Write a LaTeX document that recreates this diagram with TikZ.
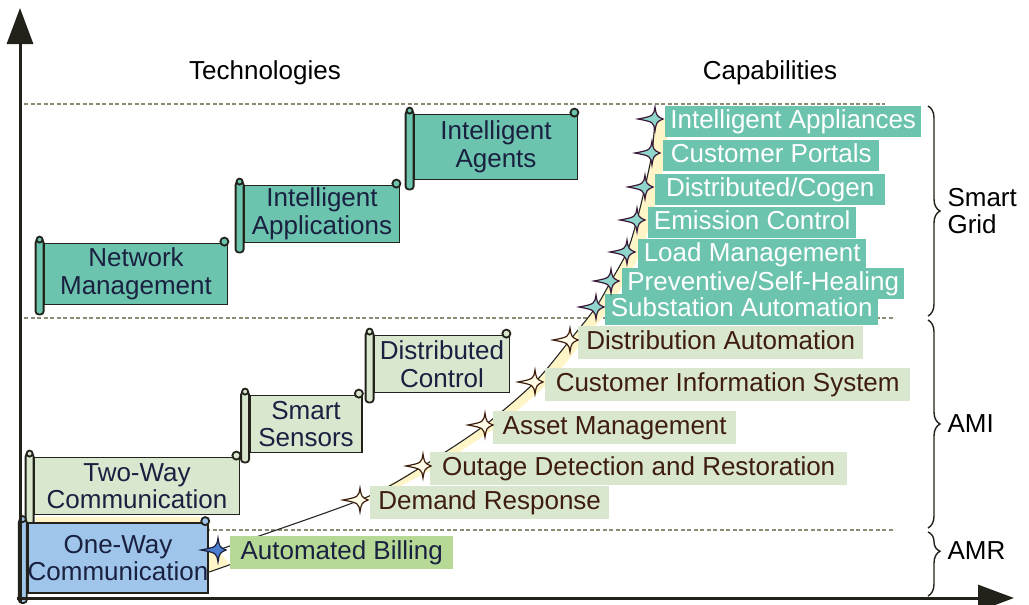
\documentclass[tikz,border=0pt]{standalone}
\usepackage{fontspec}
\setmainfont{Liberation Sans}
\usetikzlibrary{arrows.meta,positioning,decorations.pathreplacing}

\definecolor{gridteal}{HTML}{6CC4AE}
\definecolor{sage}{HTML}{D9E7CF}
\definecolor{billgreen}{HTML}{B6DA96}
\definecolor{skyblue}{HTML}{9FC6EA}
\definecolor{creamy}{HTML}{FFF5C6}
\definecolor{dashgray}{HTML}{8C8C72}
\definecolor{inkdark}{HTML}{22221A}
\definecolor{rusttext}{HTML}{3E1C0E}
\definecolor{navyink}{HTML}{1A2040}
\definecolor{startealf}{HTML}{8ED6CB}
\definecolor{starpurple}{HTML}{3A1838}
\definecolor{starblue}{HTML}{4C7ED0}
\definecolor{starcream}{HTML}{FFFCE8}

% rolled left edge and curl of a scroll
\newcommand{\scrollends}[2]{%
  \draw[scrolledge, fill=#2, rounded corners=3pt] ([shift={(-8,-3)}]#1.north west) rectangle ([shift={(0,9)}]#1.south west);
  \filldraw[scrolledge, fill=#2] ([shift={(-4,-3)}]#1.north west) circle (3);
  \filldraw[scrolledge, fill=#2] ([shift={(-4,-1)}]#1.north east) circle (4);
}

\begin{document}
\begin{tikzpicture}[x=1pt, y=-1pt,
  font=\fontsize{26}{27.5}\selectfont,
  scrollbox/.style={draw=inkdark, line width=1.8pt, align=center, inner sep=0pt, text=navyink},
  scrolledge/.style={draw=inkdark, line width=1.8pt},
  capteal/.style={fill=gridteal, text=white, inner xsep=3pt, inner ysep=0pt, text height=19pt, text depth=5pt, minimum height=31pt, yshift=-2pt},
  capsage/.style={fill=sage, text=rusttext, inner xsep=3pt, inner ysep=0pt, text height=19pt, text depth=5pt, minimum height=33pt, yshift=-2pt},
  levelline/.style={dashgray, line width=1.6pt, dash pattern=on 4pt off 2.5pt},
  ribbonline/.style={draw=black!85, line width=1.1pt},
  levelbrace/.style={decorate, decoration={brace, amplitude=12pt, #1}, line width=1.4pt, draw=inkdark},
  levelbrace/.default={aspect=0.5},
  axisline/.style={draw=inkdark, line width=3pt, -{Triangle[length=36pt, width=26pt]}},
  pics/capstar/.style 2 args={code={
    \filldraw[fill=#1, draw=#2, line width=1.2pt] (0,-12) .. controls (1.5,-3) .. (8,0) .. controls (1.5,3) .. (0,12)
      .. controls (-1.5,3) .. (-17,0) .. controls (-1.5,-3) .. (0,-12) -- cycle;
  }}
]
\useasboundingbox (0,0) rectangle (1029,605);

% level lines
\draw[levelline] (24,104) -- (885,104);
\draw[levelline] (24,318) -- (895,318);
\draw[levelline] (24,530) -- (895,530);

\node at (265,73) (techhead) {Technologies};
\node at (770,73) (caphead) {Capabilities};

% star points of the capability curve
\coordinate (sIA) at (655,119);
\coordinate (sCP) at (652,153);
\coordinate (sDC) at (645,187);
\coordinate (sEC) at (637,220);
\coordinate (sLM) at (627,252);
\coordinate (sPS) at (611,281);
\coordinate (sSA) at (596,307);
\coordinate (sDA) at (570,340);
\coordinate (sCI) at (535,382);
\coordinate (sAM) at (485,425);
\coordinate (sOD) at (423,466);
\coordinate (sDR) at (360,500);
\coordinate (sAB) at (218,550);

\fill[creamy] plot[smooth, tension=0.5] coordinates {(sDR) (sOD) (sAM) (sCI) (sDA) (sSA) (sPS) (sLM) (sEC) (sDC) (sCP) (sIA)}
  -- plot[smooth, tension=0.5] coordinates {([xshift=14pt]sIA) ([xshift=14pt]sCP) ([xshift=14pt]sDC) ([xshift=14pt]sEC)
     ([xshift=14pt]sLM) ([xshift=14pt]sPS) ([xshift=14pt]sSA) ([xshift=14pt]sDA) ([xshift=14pt]sCI) ([xshift=14pt]sAM)
     ([xshift=14pt]sOD) ([xshift=14pt]sDR)} -- cycle;
\draw[ribbonline] plot[smooth, tension=0.5] coordinates {(sAB) (sDR) (sOD) (sAM) (sCI) (sDA) (sSA) (sPS) (sLM) (sEC) (sDC) (sCP) (sIA)};

% capabilities
\node[capteal, minimum width=256pt, right=10pt of sIA] (ia) {Intelligent Appliances};
\node[capteal, minimum width=216pt, right=11pt of sCP] (cp) {Customer Portals};
\node[capteal, minimum width=230pt, right=10pt of sDC] (dc) {Distributed/Cogen};
\node[capteal, minimum width=208pt, right=11pt of sEC] (ec) {Emission Control};
\node[capteal, minimum width=228pt, right=11pt of sLM] (lm) {Load Management};
\node[capteal, minimum width=282pt, right=11pt of sPS] (ps) {Preventive/Self-Healing};
\node[capteal, minimum width=273pt, right=9pt of sSA] (sa) {Substation Automation};
\node[capsage, minimum width=285pt, right=8pt of sDA] (da) {Distribution Automation};
\node[capsage, minimum width=365pt, right=10pt of sCI] (ci) {Customer Information System};
\node[capsage, minimum width=243pt, right=8pt of sAM] (am) {Asset Management};
\node[capsage, minimum width=417pt, right=7pt of sOD] (od) {Outage Detection and Restoration};
\node[capsage, minimum width=239pt, right=10pt of sDR] (dr) {Demand Response};
\node[capsage, fill=billgreen, text=navyink, minimum width=223pt, right=12pt of sAB] (billing) {Automated Billing};

\foreach \s in {sIA,sCP,sDC,sEC,sLM,sPS,sSA}
  \pic at (\s) {capstar={startealf}{starpurple}};
\foreach \s in {sDA,sCI,sAM,sOD,sDR}
  \pic at (\s) {capstar={starcream}{rusttext}};

% technologies
\node[scrollbox, fill=gridteal, minimum width=183pt, minimum height=61pt] (netman) at (136,274) {Network\\Management};
\scrollends{netman}{gridteal}
\node[scrollbox, fill=gridteal, minimum width=155pt, minimum height=57pt] (intapp) at (322,214) {Intelligent\\Applications};
\scrollends{intapp}{gridteal}
\node[scrollbox, fill=gridteal, minimum width=163pt, minimum height=65pt] (intag) at (496,147) {Intelligent\\Agents};
\scrollends{intag}{gridteal}
\node[scrollbox, fill=sage, minimum width=205pt, minimum height=57pt] (twoway) at (137,486) {Two-Way\\Communication};
\scrollends{twoway}{sage}
\node[scrollbox, fill=sage, minimum width=112pt, minimum height=57pt] (smart) at (306,424) {Smart\\Sensors};
\scrollends{smart}{sage}
\node[scrollbox, fill=sage, minimum width=135pt, minimum height=57pt] (distctl) at (442,364) {Distributed\\Control};
\scrollends{distctl}{sage}

\fill[creamy] ([shift={(2,2)}]twoway.south west) rectangle ([shift={(-40,8)}]twoway.south east);
\node[scrollbox, fill=skyblue, minimum width=167pt, minimum height=70pt] (oneway) at (118,558) {One-Way\\Communication};
\scrollends{oneway}{skyblue}

\fill[creamy] ([shift={(0,-10)}]oneway.east) -- (sAB) -- ([shift={(0,-4)}]billing.south west) -- ([shift={(0,14)}]oneway.east) -- cycle;
\draw[ribbonline] ([shift={(0,-10)}]oneway.east) -- (sAB);
\draw[ribbonline] ([shift={(0,14)}]oneway.east) -- ([shift={(0,-4)}]billing.south west);
\pic at (sAB) {capstar={starblue}{navyink}};

% axes
\draw[axisline] (20,603) -- (20,8);
\draw[axisline] (17,598) -- (1014,598);

% levels
\draw[levelbrace] (928,106) -- (928,316);
\node[anchor=west, align=left] (smartgrid) at (944,211) {Smart\\Grid};
\draw[levelbrace] (928,320) -- (928,528);
\node[anchor=west] (ami) at (944,424) {AMI};
\draw[levelbrace={aspect=0.3}] (928,532) -- (928,596);
\node[anchor=west] (amr) at (944,551) {AMR};

\end{tikzpicture}
\end{document}
